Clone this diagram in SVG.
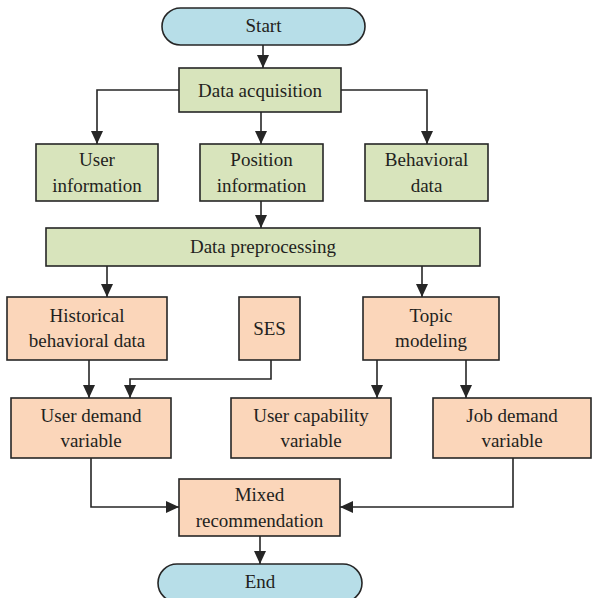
<svg xmlns="http://www.w3.org/2000/svg" width="592" height="598" viewBox="0 0 592 598">
  <defs>
    <marker id="arrow" viewBox="0 0 13 12" refX="13" refY="6" markerWidth="13" markerHeight="12" markerUnits="userSpaceOnUse" orient="auto">
      <path d="M0,0 L13,6 L0,12 Z" fill="#262626"/>
    </marker>
  </defs>
  <rect width="592" height="598" fill="#ffffff"/>

  <g id="connectors" fill="none" stroke="#262626" stroke-width="1.6" marker-end="url(#arrow)">
    <path d="M263,45 V68"/>
    <!-- data acquisition fan-out -->
    <path d="M179,90 H97 V144"/>
    <path d="M261,112 V144"/>
    <path d="M341,90 H427 V144"/>
    <!-- position information to preprocessing -->
    <path d="M261,201 V228"/>
    <!-- preprocessing outputs -->
    <path d="M107,266 V297"/>
    <path d="M422,266 V297"/>
    <!-- into user demand variable -->
    <path d="M89,360 V398"/>
    <path d="M271,360 V379 H130 V398"/>
    <!-- topic modeling outputs -->
    <path d="M377,360 V398"/>
    <path d="M466,360 V398"/>
    <!-- into mixed recommendation -->
    <path d="M91,458 V507 H179"/>
    <path d="M513,458 V507 H340"/>
    <!-- to end -->
    <path d="M260,536 V564"/>
  </g>

  <g id="nodes" stroke="#262626" stroke-width="1.6">
    <g id="start">
      <rect fill="#b7dee8" x="162" y="8" width="203" height="37" rx="18.5"/>
      <text style="font-family: 'Liberation Serif', serif; font-size: 19px" fill="#231f20" stroke="none" text-anchor="middle" x="263.5" y="32">Start</text>
    </g>
    <g id="data-acquisition">
      <rect fill="#d8e4bc" x="179" y="68" width="162" height="44"/>
      <text style="font-family: 'Liberation Serif', serif; font-size: 19px" fill="#231f20" stroke="none" text-anchor="middle" x="260" y="97">Data acquisition</text>
    </g>
    <g id="user-information">
      <rect fill="#d8e4bc" x="36" y="144" width="122" height="57"/>
      <text style="font-family: 'Liberation Serif', serif; font-size: 19px" fill="#231f20" stroke="none" text-anchor="middle" x="97" y="166">User</text>
      <text style="font-family: 'Liberation Serif', serif; font-size: 19px" fill="#231f20" stroke="none" text-anchor="middle" x="97" y="192">information</text>
    </g>
    <g id="position-information">
      <rect fill="#d8e4bc" x="200" y="144" width="123" height="57"/>
      <text style="font-family: 'Liberation Serif', serif; font-size: 19px" fill="#231f20" stroke="none" text-anchor="middle" x="261.5" y="166">Position</text>
      <text style="font-family: 'Liberation Serif', serif; font-size: 19px" fill="#231f20" stroke="none" text-anchor="middle" x="261.5" y="192">information</text>
    </g>
    <g id="behavioral-data">
      <rect fill="#d8e4bc" x="365" y="144" width="123" height="57"/>
      <text style="font-family: 'Liberation Serif', serif; font-size: 19px" fill="#231f20" stroke="none" text-anchor="middle" x="426.5" y="166">Behavioral</text>
      <text style="font-family: 'Liberation Serif', serif; font-size: 19px" fill="#231f20" stroke="none" text-anchor="middle" x="426.5" y="192">data</text>
    </g>
    <g id="data-preprocessing">
      <rect fill="#d8e4bc" x="46" y="228" width="434" height="38"/>
      <text style="font-family: 'Liberation Serif', serif; font-size: 19px" fill="#231f20" stroke="none" text-anchor="middle" x="263" y="253">Data preprocessing</text>
    </g>
    <g id="historical-behavioral-data">
      <rect fill="#fbd6ba" x="7" y="297" width="160" height="63"/>
      <text style="font-family: 'Liberation Serif', serif; font-size: 19px" fill="#231f20" stroke="none" text-anchor="middle" x="87" y="322">Historical</text>
      <text style="font-family: 'Liberation Serif', serif; font-size: 19px" fill="#231f20" stroke="none" text-anchor="middle" x="87" y="347">behavioral data</text>
    </g>
    <g id="ses">
      <rect fill="#fbd6ba" x="239" y="297" width="61" height="63"/>
      <text style="font-family: 'Liberation Serif', serif; font-size: 19px" fill="#231f20" stroke="none" text-anchor="middle" x="269.5" y="335">SES</text>
    </g>
    <g id="topic-modeling">
      <rect fill="#fbd6ba" x="363" y="297" width="136" height="63"/>
      <text style="font-family: 'Liberation Serif', serif; font-size: 19px" fill="#231f20" stroke="none" text-anchor="middle" x="431" y="322">Topic</text>
      <text style="font-family: 'Liberation Serif', serif; font-size: 19px" fill="#231f20" stroke="none" text-anchor="middle" x="431" y="347">modeling</text>
    </g>
    <g id="user-demand-variable">
      <rect fill="#fbd6ba" x="11" y="398" width="160" height="60"/>
      <text style="font-family: 'Liberation Serif', serif; font-size: 19px" fill="#231f20" stroke="none" text-anchor="middle" x="91" y="422">User demand</text>
      <text style="font-family: 'Liberation Serif', serif; font-size: 19px" fill="#231f20" stroke="none" text-anchor="middle" x="91" y="447">variable</text>
    </g>
    <g id="user-capability-variable">
      <rect fill="#fbd6ba" x="231" y="398" width="160" height="60"/>
      <text style="font-family: 'Liberation Serif', serif; font-size: 19px" fill="#231f20" stroke="none" text-anchor="middle" x="311" y="422">User capability</text>
      <text style="font-family: 'Liberation Serif', serif; font-size: 19px" fill="#231f20" stroke="none" text-anchor="middle" x="311" y="447">variable</text>
    </g>
    <g id="job-demand-variable">
      <rect fill="#fbd6ba" x="433" y="398" width="158" height="60"/>
      <text style="font-family: 'Liberation Serif', serif; font-size: 19px" fill="#231f20" stroke="none" text-anchor="middle" x="512" y="422">Job demand</text>
      <text style="font-family: 'Liberation Serif', serif; font-size: 19px" fill="#231f20" stroke="none" text-anchor="middle" x="512" y="447">variable</text>
    </g>
    <g id="mixed-recommendation">
      <rect fill="#fbd6ba" x="179" y="479" width="161" height="57"/>
      <text style="font-family: 'Liberation Serif', serif; font-size: 19px" fill="#231f20" stroke="none" text-anchor="middle" x="259.5" y="501">Mixed</text>
      <text style="font-family: 'Liberation Serif', serif; font-size: 19px" fill="#231f20" stroke="none" text-anchor="middle" x="259.5" y="527">recommendation</text>
    </g>
    <g id="end">
      <rect fill="#b7dee8" x="158" y="564" width="204" height="38" rx="19"/>
      <text style="font-family: 'Liberation Serif', serif; font-size: 19px" fill="#231f20" stroke="none" text-anchor="middle" x="260" y="588">End</text>
    </g>
  </g>
</svg>
